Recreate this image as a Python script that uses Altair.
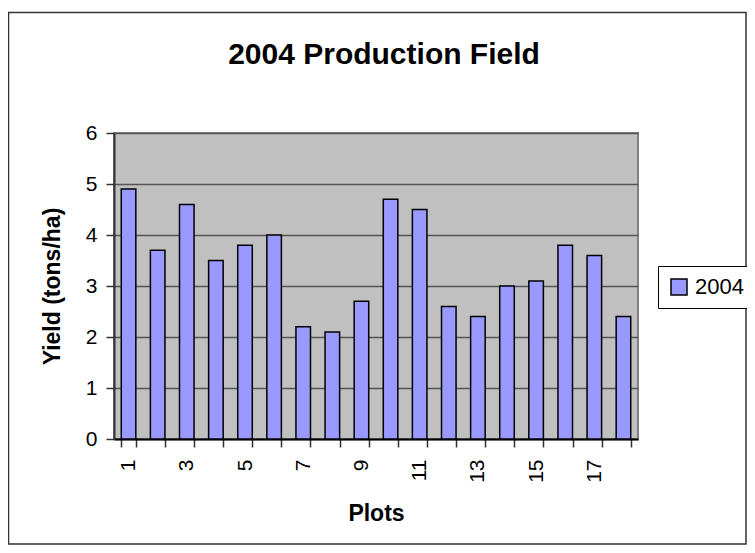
import altair as alt
import pandas as pd

# ---- data ----
plots = [str(i) for i in range(1, 19)]
yields = [4.9, 3.7, 4.6, 3.5, 3.8, 4.0, 2.2, 2.1, 2.7, 4.7, 4.5, 2.6, 2.4, 3.0, 3.1, 3.8, 3.6, 2.4]
series = ["2004"] * len(plots)
y_ticks = [0, 1, 2, 3, 4, 5, 6]

df = pd.DataFrame({"Plot": plots, "Yield": yields, "Series": series})
frame_df = pd.DataFrame({"k": [0]})

FONT = "Liberation Sans"
W, H = 524, 306

bars = alt.Chart(df).mark_bar(stroke="black", strokeWidth=1.5).encode(
    x=alt.X(
        "Plot:N",
        sort=plots,
        scale=alt.Scale(paddingInner=0.5, paddingOuter=0.25),
        axis=alt.Axis(
            title="Plots",
            titleFont=FONT,
            titleFontSize=23,
            titleFontWeight="bold",
            titleColor="black",
            titleX=W / 2,
            titleY=81,
            titleBaseline="alphabetic",
            labelAngle=270,
            labelExpr="toNumber(datum.value) % 2 == 1 ? datum.label : ''",
            labelFont=FONT,
            labelFontSize=21,
            labelColor="black",
            labelPadding=12,
            labelOverlap=False,
            tickBand="extent",
            tickSize=8,
            tickColor="#333333",
            tickWidth=1.5,
            domainColor="black",
            domainWidth=2,
            grid=False,
        ),
    ),
    y=alt.Y(
        "Yield:Q",
        scale=alt.Scale(domain=[0, 6]),
        axis=alt.Axis(
            title="Yield (tons/ha)",
            titleFont=FONT,
            titleFontSize=23,
            titleFontWeight="bold",
            titleColor="black",
            titleAngle=270,
            titleX=-62,
            titleY=H / 2,
            titleAlign="center",
            titleBaseline="middle",
            values=y_ticks,
            labelFont=FONT,
            labelFontSize=21,
            labelColor="black",
            labelPadding=9,
            tickSize=8,
            tickColor="#333333",
            tickWidth=1.5,
            domainColor="#333333",
            domainWidth=2,
            grid=True,
            gridColor="#555555",
            gridWidth=1.5,
        ),
    ),
    color=alt.Color(
        "Series:N",
        scale=alt.Scale(range=["#9999FF"]),
        legend=alt.Legend(
            title=None,
            orient="none",
            legendX=544,
            legendY=133,
            strokeColor="black",
            fillColor="white",
            padding=10,
            symbolType="square",
            symbolSize=256,
            symbolStrokeColor="black",
            symbolStrokeWidth=1.5,
            symbolOpacity=1,
            labelFont=FONT,
            labelFontSize=22,
            labelColor="black",
            labelOffset=5,
        ),
    ),
)

frame = alt.Chart(frame_df).mark_rect(fillOpacity=0, stroke="#333333", strokeWidth=1.5).encode(
    x=alt.value(-105.5),
    x2=alt.value(W + 108),
    y=alt.value(-120.5),
    y2=alt.value(H + 105),
)

chart = (
    alt.layer(frame, bars)
    .properties(
        width=W,
        height=H,
        title=alt.TitleParams(
            "2004 Production Field",
            font=FONT,
            fontSize=30,
            fontWeight="bold",
            color="black",
            anchor="middle",
            frame="group",
            offset=-58,
            dx=8,
        ),
        autosize=alt.AutoSizeParams(type="none"),
        padding={"left": 106, "top": 125, "right": 109, "bottom": 106},
        background="white",
    )
    .configure_view(fill="#C0C0C0", stroke="#808080", strokeWidth=2)
)

chart.save("out.html", embed_options={"renderer": "svg", "actions": False})
